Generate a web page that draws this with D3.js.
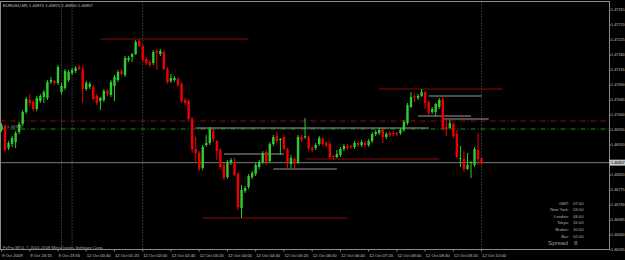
<!DOCTYPE html>
<html>
<head>
<meta charset="utf-8">
<script src="https://cdn.jsdelivr.net/npm/d3@7"></script>
<style>
  body { margin: 0; background: #000; }
  svg { display: block; }
</style>
</head>
<body>
<script>
// EURUSD M5 bars, 9 Oct 22:35 .. 12 Oct 10:00
const open = [1.46955,1.46967,1.46901,1.46913,1.46919,1.46949,1.46973,1.47009,1.47045,1.47039,
  1.47018,1.47042,1.47054,1.47051,1.47099,1.47102,1.47096,1.47069,1.47081,1.47105,
  1.47126,1.47132,1.47144,1.47138,1.47078,1.47084,1.47084,1.47057,1.47042,1.47045,
  1.47072,1.47060,1.47087,1.47105,1.47132,1.47120,1.47165,1.47174,1.47183,1.47222,
  1.47207,1.47168,1.47159,1.47156,1.47192,1.47183,1.47189,1.47138,1.47102,1.47105,
  1.47108,1.47093,1.47045,1.47042,1.46988,1.46898,1.46886,1.46841,1.46910,1.46916,
  1.46952,1.46922,1.46895,1.46850,1.46814,1.46856,1.46859,1.46823,1.46721,1.46772,
  1.46784,1.46814,1.46823,1.46844,1.46859,1.46889,1.46862,1.46913,1.46937,1.46925,
  1.46934,1.46898,1.46853,1.46868,1.46859,1.46934,1.46934,1.46934,1.46901,1.46901,
  1.46913,1.46928,1.46916,1.46913,1.46877,1.46874,1.46880,1.46898,1.46907,1.46907,
  1.46904,1.46916,1.46910,1.46916,1.46910,1.46922,1.46943,1.46946,1.46955,1.46934,
  1.46946,1.46946,1.46946,1.46946,1.46955,1.46976,1.47024,1.47057,1.47051,1.47057,
  1.47069,1.47039,1.47009,1.47009,1.47024,1.47048,1.46964,1.46961,1.46973,1.46943,
  1.46868,1.46868,1.46838,1.46856,1.46850,1.46895,1.46870];
const high = [1.46976,1.46973,1.46922,1.46937,1.46952,1.46979,1.47015,1.47054,1.47063,1.47045,
  1.47057,1.47063,1.47075,1.47105,1.47114,1.47105,1.47150,1.47096,1.47138,1.47135,
  1.47141,1.47147,1.47150,1.47147,1.47102,1.47099,1.47090,1.47063,1.47054,1.47078,
  1.47078,1.47105,1.47120,1.47135,1.47138,1.47177,1.47177,1.47186,1.47225,1.47228,
  1.47210,1.47174,1.47165,1.47195,1.47198,1.47198,1.47195,1.47144,1.47123,1.47117,
  1.47114,1.47099,1.47051,1.47048,1.46994,1.46934,1.46892,1.46910,1.46940,1.46964,
  1.46961,1.46925,1.46901,1.46856,1.46865,1.46871,1.46871,1.46829,1.46790,1.46787,
  1.46823,1.46832,1.46856,1.46865,1.46892,1.46895,1.46919,1.46940,1.46949,1.46931,
  1.46940,1.46901,1.46880,1.46874,1.46940,1.46940,1.46991,1.46937,1.46907,1.46916,
  1.46937,1.46934,1.46922,1.46919,1.46880,1.46895,1.46904,1.46913,1.46913,1.46910,
  1.46922,1.46922,1.46925,1.46922,1.46928,1.46949,1.46955,1.46961,1.46958,1.46949,
  1.46952,1.46952,1.46949,1.46961,1.46985,1.47036,1.47069,1.47066,1.47063,1.47078,
  1.47072,1.47045,1.47024,1.47036,1.47051,1.47054,1.46985,1.46985,1.46979,1.46955,
  1.46907,1.46892,1.46886,1.46862,1.46904,1.46946,1.46870];
const low = [1.46949,1.46889,1.46895,1.46904,1.46901,1.46943,1.46967,1.47003,1.47027,1.47012,
  1.47012,1.47036,1.47036,1.47045,1.47093,1.47090,1.47090,1.47063,1.47075,1.47099,
  1.47120,1.47126,1.47135,1.47036,1.47072,1.47078,1.47045,1.47030,1.47015,1.47039,
  1.47057,1.47054,1.47042,1.47099,1.47117,1.47114,1.47159,1.47159,1.47180,1.47204,
  1.47159,1.47150,1.47144,1.47150,1.47135,1.47177,1.47135,1.47093,1.47096,1.47099,
  1.47084,1.47036,1.47030,1.46982,1.46886,1.46856,1.46832,1.46835,1.46904,1.46910,
  1.46919,1.46865,1.46838,1.46805,1.46808,1.46850,1.46817,1.46715,1.46691,1.46766,
  1.46778,1.46808,1.46817,1.46838,1.46853,1.46850,1.46856,1.46907,1.46916,1.46880,
  1.46895,1.46841,1.46841,1.46841,1.46853,1.46919,1.46928,1.46892,1.46889,1.46895,
  1.46907,1.46907,1.46904,1.46868,1.46865,1.46871,1.46874,1.46892,1.46895,1.46898,
  1.46898,1.46904,1.46904,1.46904,1.46904,1.46916,1.46937,1.46940,1.46916,1.46928,
  1.46934,1.46937,1.46937,1.46940,1.46949,1.46970,1.47021,1.47039,1.47045,1.47054,
  1.47018,1.47000,1.47003,1.46997,1.47018,1.46955,1.46937,1.46958,1.46931,1.46871,
  1.46844,1.46829,1.46835,1.46811,1.46844,1.46850,1.46850];
const close = [1.46970,1.46895,1.46916,1.46931,1.46946,1.46973,1.47009,1.47048,1.47036,1.47018,
  1.47051,1.47057,1.47069,1.47099,1.47105,1.47096,1.47144,1.47087,1.47132,1.47129,
  1.47135,1.47141,1.47138,1.47078,1.47096,1.47093,1.47048,1.47036,1.47051,1.47072,
  1.47063,1.47099,1.47114,1.47129,1.47123,1.47171,1.47171,1.47183,1.47219,1.47207,
  1.47165,1.47156,1.47150,1.47189,1.47186,1.47192,1.47138,1.47099,1.47111,1.47111,
  1.47090,1.47042,1.47036,1.46988,1.46898,1.46886,1.46838,1.46904,1.46916,1.46958,
  1.46928,1.46892,1.46844,1.46811,1.46859,1.46865,1.46820,1.46724,1.46775,1.46781,
  1.46817,1.46826,1.46850,1.46859,1.46886,1.46859,1.46913,1.46934,1.46922,1.46928,
  1.46898,1.46856,1.46871,1.46856,1.46934,1.46925,1.46937,1.46901,1.46895,1.46910,
  1.46931,1.46913,1.46910,1.46874,1.46874,1.46883,1.46898,1.46907,1.46901,1.46904,
  1.46916,1.46910,1.46919,1.46910,1.46922,1.46943,1.46949,1.46955,1.46934,1.46943,
  1.46940,1.46943,1.46943,1.46955,1.46979,1.47030,1.47054,1.47054,1.47057,1.47069,
  1.47036,1.47006,1.47018,1.47033,1.47045,1.46958,1.46958,1.46976,1.46937,1.46874,
  1.46871,1.46838,1.46850,1.46859,1.46898,1.46868,1.46857];

const timeLabels = ["9 Oct 2009", "9 Oct 23:15", "9 Oct 23:55", "12 Oct 00:40", "12 Oct 01:20",
  "12 Oct 02:00", "12 Oct 02:40", "12 Oct 03:20", "12 Oct 04:00", "12 Oct 04:40", "12 Oct 05:20",
  "12 Oct 06:00", "12 Oct 06:40", "12 Oct 07:20", "12 Oct 08:00", "12 Oct 08:40", "12 Oct 09:20",
  "12 Oct 10:00"];
const barsPerLabel = 8;

const priceTicks = [1.47315, 1.47270, 1.47225, 1.47180, 1.47135, 1.47090, 1.47045, 1.47000,
  1.46955, 1.46910, 1.46865, 1.46820, 1.46775, 1.46730, 1.46685, 1.46640, 1.46595];

// drawn objects: [price, from bar, to bar]
const redLines = [[1.47228, 28, 70], [1.46691, 57, 98], [1.47078, 107, 142], [1.46868, 86, 124]];
const grayLines = [[1.46883, 63, 80], [1.47057, 121, 136], [1.46997, 118, 133], [1.46988, 125, 138], [1.46961, 55, 121]];
const darkLines = [[1.46838, 77, 95]];
const redLevels = [1.46982];
const greenLevels = [1.46958];
const separators = [17, 20, 40, 136];

const symbol = "EURUSD,M5";
const sessionNames = ["GMT:", "New York:", "London:", "Tokyo:", "Broker:", "Bar:"];
const sessionTimes = ["07:00", "03:00", "08:00", "16:00", "10:00", "02:00"];
const spread = 8;

const W = 625, H = 260;
const plot = { left: 0.5, top: 1.5, right: 609.5, bottom: 249.5 };
const font = "'Liberation Sans', Arial, sans-serif";

const svg = d3.select("body").append("svg")
  .attr("width", W)
  .attr("height", H)
  .style("background", "#000");

const x = d3.scaleLinear().domain([0, 136]).range([1.5, 481.6]);
const y = d3.scaleLinear().domain([1.46595, 1.47315]).range([250, 10]);
const fmt = d3.format(".5f");

const bars = close.map((c, i) => ({ i, o: open[i], h: high[i], l: low[i], c }));
const lastBar = bars[bars.length - 1];

// separators
svg.append("g")
  .selectAll("line")
  .data(separators)
  .join("line")
  .attr("x1", d => x(d)).attr("x2", d => x(d))
  .attr("y1", plot.top).attr("y2", plot.bottom)
  .attr("stroke", "#6a6a6a")
  .attr("stroke-dasharray", "1,2");

// dash-dot levels
const levels = svg.append("g");
levels.selectAll("line.r")
  .data(redLevels)
  .join("line")
  .attr("class", "r")
  .attr("x1", plot.left).attr("x2", plot.right)
  .attr("y1", d => y(d)).attr("y2", d => y(d))
  .attr("stroke", "#9a0a0a")
  .attr("stroke-dasharray", "5,2,1,2");
levels.selectAll("line.g")
  .data(greenLevels)
  .join("line")
  .attr("class", "g")
  .attr("x1", plot.left).attr("x2", plot.right)
  .attr("y1", d => y(d)).attr("y2", d => y(d))
  .attr("stroke", "#1f8a1f")
  .attr("stroke-dasharray", "5,2,1,2");
levels.selectAll("text")
  .data(greenLevels)
  .join("text")
  .attr("x", 7)
  .attr("y", d => y(d) - 1.2)
  .attr("fill", "#8a8a8a")
  .style("font", `4.2px ${font}`)
  .text(d => fmt(d));

// horizontal objects
const segs = (data, color, w) => svg.append("g")
  .selectAll("line")
  .data(data)
  .join("line")
  .attr("x1", d => x(d[1])).attr("x2", d => x(d[2]))
  .attr("y1", d => y(d[0])).attr("y2", d => y(d[0]))
  .attr("stroke", color)
  .attr("stroke-width", w);

segs(grayLines, "#9a9a9a", 1);
segs(darkLines, "#4a4a4a", 2);
segs(redLines, "#8c0a0a", 1);

// current price line
svg.append("line")
  .attr("x1", plot.left).attr("x2", plot.right)
  .attr("y1", y(lastBar.c)).attr("y2", y(lastBar.c))
  .attr("stroke", "#7a7a7a");

// candles
const up = "#2ecc2e", down = "#ee0000";
const candles = svg.append("g")
  .selectAll("g")
  .data(bars)
  .join("g");

candles.append("line")
  .attr("x1", d => x(d.i)).attr("x2", d => x(d.i))
  .attr("y1", d => y(d.h)).attr("y2", d => y(d.l))
  .attr("stroke", d => d.c >= d.o ? up : down);

candles.append("rect")
  .attr("x", d => x(d.i) - 1.2)
  .attr("width", 2.4)
  .attr("y", d => y(Math.max(d.o, d.c)))
  .attr("height", d => Math.max(1, Math.abs(y(d.o) - y(d.c))))
  .attr("fill", d => d.c >= d.o ? up : down);

// frame
svg.append("rect")
  .attr("x", plot.left).attr("y", plot.top)
  .attr("width", plot.right - plot.left)
  .attr("height", plot.bottom - plot.top)
  .attr("fill", "none")
  .attr("stroke", "#8a8a8a");

// price axis
const axisFont = `3.8px ${font}`;
const yAxis = svg.append("g");
const shownTicks = priceTicks.filter(p => Math.abs(y(p) - y(lastBar.c)) > 5);
yAxis.selectAll("line")
  .data(shownTicks)
  .join("line")
  .attr("x1", plot.right).attr("x2", plot.right + 1.5)
  .attr("y1", d => y(d)).attr("y2", d => y(d))
  .attr("stroke", "#8a8a8a");
yAxis.selectAll("text")
  .data(shownTicks)
  .join("text")
  .attr("x", 611)
  .attr("y", d => y(d))
  .attr("dy", "0.35em")
  .attr("fill", "#c0c0c0")
  .style("font", axisFont)
  .text(d => fmt(d));

// current price marker
svg.append("rect")
  .attr("x", plot.right)
  .attr("y", y(lastBar.c) - 3)
  .attr("width", W - plot.right)
  .attr("height", 6)
  .attr("fill", "#c4c4c4");
svg.append("text")
  .attr("x", 611)
  .attr("y", y(lastBar.c))
  .attr("dy", "0.35em")
  .attr("fill", "#000")
  .style("font", axisFont)
  .text(fmt(lastBar.c));

// time axis
const xAxis = svg.append("g");
const tickBars = timeLabels.map((t, k) => ({ t, i: k * barsPerLabel }));
xAxis.selectAll("line")
  .data(tickBars)
  .join("line")
  .attr("x1", d => x(d.i)).attr("x2", d => x(d.i))
  .attr("y1", plot.bottom).attr("y2", plot.bottom + 2)
  .attr("stroke", "#8a8a8a");
xAxis.selectAll("text")
  .data(tickBars)
  .join("text")
  .attr("x", d => x(d.i) + 0.5)
  .attr("y", 257)
  .attr("fill", "#c0c0c0")
  .style("font", `4.2px ${font}`)
  .text(d => d.t);

// header and copyright
svg.append("text")
  .attr("x", 3).attr("y", 6.5)
  .attr("fill", "#c0c0c0")
  .style("font", `4.2px ${font}`)
  .text(`${symbol}  ${[lastBar.o, lastBar.h, lastBar.l, lastBar.c].map(fmt).join(" ")}`);

svg.append("text")
  .attr("x", 3).attr("y", 249)
  .attr("fill", "#a0a0a0")
  .style("font", `4.2px ${font}`)
  .text("FxPro MT4, © 2001-2008 MetaQuotes Software Corp.");

// session clock panel
const panel = svg.append("g").style("font", `4.2px ${font}`).attr("fill", "#b0b0b0");
panel.selectAll("text.n")
  .data(sessionNames)
  .join("text")
  .attr("class", "n")
  .attr("x", 569).attr("y", (d, k) => 204.5 + k * 6.6)
  .attr("text-anchor", "end")
  .text(d => d);
panel.selectAll("text.v")
  .data(sessionTimes)
  .join("text")
  .attr("class", "v")
  .attr("x", 573).attr("y", (d, k) => 204.5 + k * 6.6)
  .text(d => d);

svg.append("text")
  .attr("x", 568).attr("y", 245)
  .attr("text-anchor", "end")
  .attr("fill", "#9a9a9a")
  .style("font", `6.2px ${font}`)
  .text("Spread");
svg.append("text")
  .attr("x", 574).attr("y", 245)
  .attr("fill", "#9a9a9a")
  .style("font", `6.2px ${font}`)
  .text(spread);
</script>
</body>
</html>
